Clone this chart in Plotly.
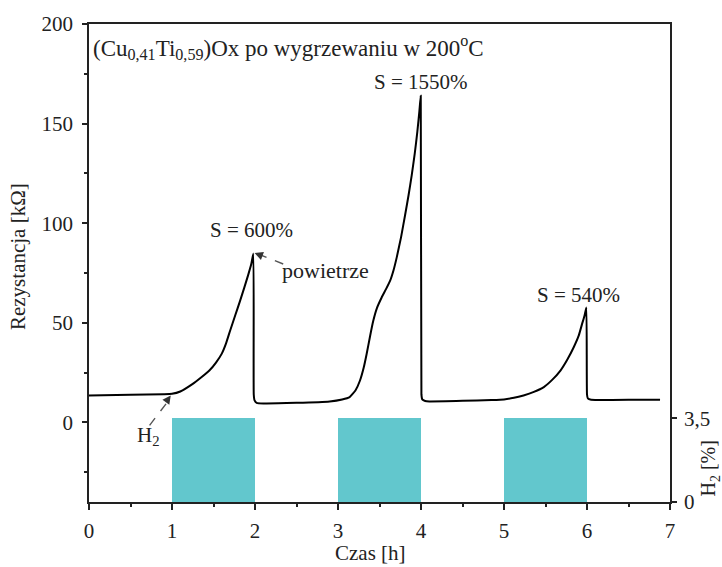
import plotly.graph_objects as go

# ---- data ----
time_h = [0, 0.5, 0.9, 1.0, 1.1, 1.25, 1.35, 1.45, 1.53, 1.6, 1.65, 1.7, 1.76, 1.82, 1.87, 1.92, 1.955, 1.98,
          1.985, 1.995, 2.02, 2.1, 2.5, 2.9, 3.05, 3.14, 3.21, 3.265, 3.31, 3.345, 3.385, 3.425, 3.47, 3.526,
          3.58, 3.627, 3.67, 3.707, 3.76, 3.808, 3.85, 3.888, 3.925, 3.956, 3.98, 3.997,
          4.005, 4.015, 4.05, 4.1, 4.5, 4.85, 5.0, 5.12, 5.235, 5.36, 5.48, 5.58, 5.68, 5.76, 5.84, 5.9,
          5.94, 5.97, 5.992,
          6.0, 6.01, 6.05, 6.1, 6.5, 6.88]
resistance_kohm = [13.5, 13.8, 14.1, 14.3, 15.5, 19.3, 22.5, 26, 30, 34.5, 39.5, 46, 53.5, 61, 67.5, 74.3, 79.5, 84.8,
                   14, 11, 9.8, 9.5, 9.8, 10.5, 11.5, 12.7, 16, 21, 27.5, 34.3, 43, 51, 57.5, 62.7,
                   67, 71, 76.5, 82.7, 93, 104, 114, 124, 135, 146, 156, 164,
                   14, 11.5, 10.7, 10.5, 10.8, 11.2, 11.5, 12.3, 13.5, 15.3, 17.7, 21.3, 26, 31.3, 37.7, 43.5,
                   49.3, 53.5, 57.7,
                   14, 12, 11.3, 11.2, 11.3, 11.3]

h2_pulse_center = [1.5, 3.5, 5.5]
h2_pulse_width = [1, 1, 1]
h2_percent = [3.5, 3.5, 3.5]

peak_labels = ["S = 600%", "S = 1550%", "S = 540%"]
peak_label_pos = [(1.96, 89.5), (4.0, 164), (5.9, 57)]

y_ticks = [0, 50, 100, 150, 200]
y2_ticks = [0, 3.5]
y2_ticktext = ["0", "3,5"]

FONT = "Liberation Serif"
FS = 21
TXT = "#222"

fig = go.Figure()

fig.add_trace(go.Bar(
    x=h2_pulse_center, y=h2_percent, width=h2_pulse_width,
    marker=dict(color="#62C7CD", line=dict(width=0)),
    yaxis="y2", showlegend=False, hoverinfo="skip"))

fig.add_trace(go.Scatter(
    x=time_h, y=resistance_kohm, mode="lines",
    line=dict(color="black", width=2, shape="spline", smoothing=0.4), showlegend=False))

# dashed arrow shafts
fig.add_trace(go.Scatter(x=[0.73, 0.96], y=[-1.5, 11], mode="lines",
                         line=dict(color="#555", width=1.4, dash="dash"), showlegend=False))
fig.add_trace(go.Scatter(x=[2.34, 2.04], y=[79.5, 84.5], mode="lines",
                         line=dict(color="#555", width=1.4, dash="dash"), showlegend=False))

ann = []
ann.append(dict(x=0.985, y=13.5, xref="x", yref="y", ax=-5, ay=7, showarrow=True,
                arrowhead=2, arrowsize=1.2, arrowwidth=1.4, arrowcolor="#333", text=""))
ann.append(dict(x=1.995, y=85, xref="x", yref="y", ax=8, ay=3, showarrow=True,
                arrowhead=2, arrowsize=1.2, arrowwidth=1.4, arrowcolor="#333", text=""))
for t, (px, py) in zip(peak_labels, peak_label_pos):
    ann.append(dict(x=px, y=py, xref="x", yref="y", text=t, showarrow=False,
                    font=dict(family=FONT, size=21, color=TXT), xanchor="center", yanchor="bottom"))
ann.append(dict(x=2.3, y=76, xref="x", yref="y", text="powietrze", showarrow=False, xanchor="left",
                yanchor="middle", font=dict(family=FONT, size=22, color=TXT)))
ann.append(dict(x=0.72, y=-7, xref="x", yref="y", text="H<sub>2</sub>", showarrow=False,
                xanchor="center", yanchor="middle", font=dict(family=FONT, size=21, color=TXT)))
ann.append(dict(x=0, y=1, xref="paper", yref="paper", xanchor="left", yanchor="top", xshift=2, yshift=-6,
                text="(Cu<sub>0,41</sub>Ti<sub>0,59</sub>)Ox po wygrzewaniu w 200<sup>o</sup>C",
                showarrow=False, font=dict(family=FONT, size=23, color=TXT)))
ann.append(dict(x=0, y=0.5125, xref="paper", yref="paper", xshift=-71, text="Rezystancja [kΩ]",
                xanchor="center", yanchor="middle",
                textangle=-90, showarrow=False, font=dict(family=FONT, size=21, color=TXT)))
ann.append(dict(x=1, y=0.07, xref="paper", yref="paper", xshift=40, text="H<sub>2</sub> [%]",
                xanchor="center", yanchor="middle",
                textangle=-90, showarrow=False, font=dict(family=FONT, size=20, color=TXT)))
ann.append(dict(x=0.484, y=0, xref="paper", yref="paper", yshift=-51, text="Czas [h]",
                xanchor="center", yanchor="middle",
                showarrow=False, font=dict(family=FONT, size=21, color=TXT)))

fig.update_layout(
    width=722, height=567,
    margin=dict(l=89, r=52, t=22, b=65),
    plot_bgcolor="white", paper_bgcolor="white",
    font=dict(family=FONT, size=FS, color=TXT),
    annotations=ann,
    bargap=0,
    xaxis=dict(range=[0, 7], dtick=1, tick0=0, showline=True, linecolor="#222", linewidth=1.6,
               mirror=True, ticks="outside", ticklen=6, tickwidth=1.5, tickcolor="#222",
               minor=dict(dtick=0.5, ticks="outside", ticklen=3, tickcolor="#222", tickwidth=1.5),
               showgrid=False, zeroline=False, ticklabelstandoff=3),
    yaxis=dict(range=[-40, 200], tickvals=y_ticks, showline=True, linecolor="#222", linewidth=1.6,
               mirror=True, ticks="outside", ticklen=5, tickwidth=1.5, tickcolor="#222",
               minor=dict(tickvals=[-25, 25, 75, 125, 175], ticks="outside", ticklen=3,
                          tickcolor="#222", tickwidth=1.5),
               showgrid=False, zeroline=False, ticklabelstandoff=5),
    yaxis2=dict(range=[0, 20], overlaying="y", side="right", tickvals=y2_ticks, ticktext=y2_ticktext,
                showline=True, linecolor="#222", linewidth=1.6, ticks="outside", ticklen=5,
                tickwidth=1.5, tickcolor="#222", showgrid=False, zeroline=False, ticklabelstandoff=3),
)

fig.write_html("out.html")
